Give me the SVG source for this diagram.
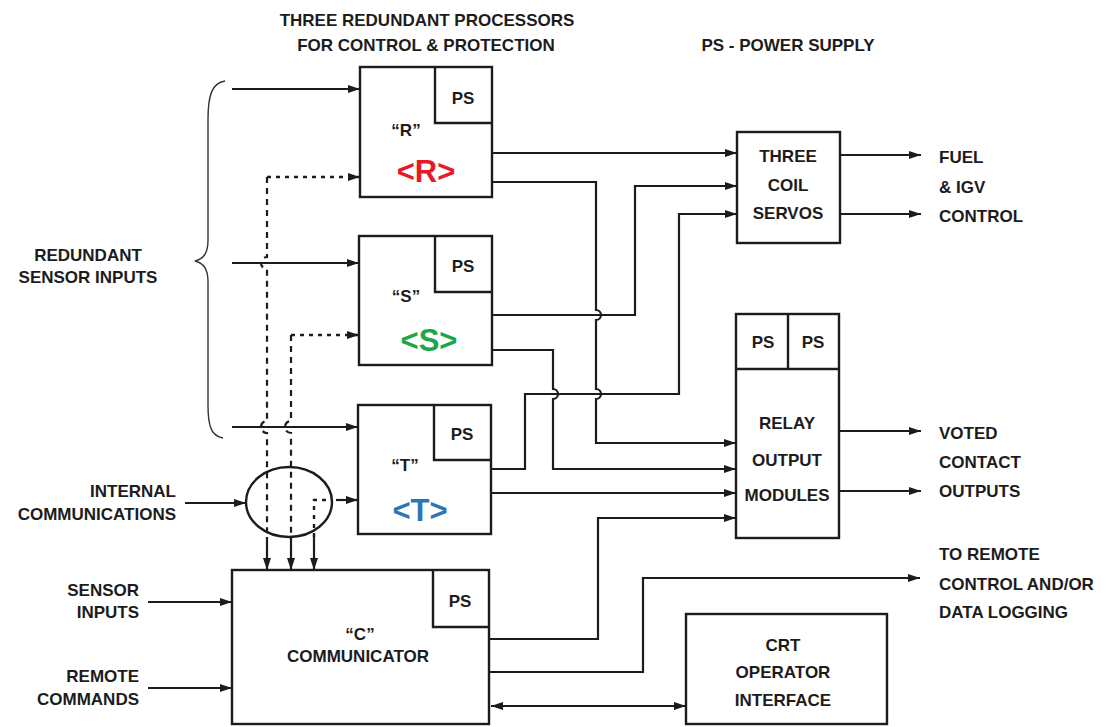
<svg xmlns="http://www.w3.org/2000/svg" width="1113" height="727" viewBox="0 0 1113 727">
<defs>
<style>
.t{font-family:"Liberation Sans",Arial,sans-serif;font-size:17px;font-weight:bold;fill:#1c1c1c}
.m{text-anchor:middle}
.e{text-anchor:end}
.box{fill:none;stroke:#1c1c1c;stroke-width:2.4}
.w{fill:none;stroke:#1c1c1c;stroke-width:2.2}
.a{marker-end:url(#ah)}
.d{fill:none;stroke:#1c1c1c;stroke-width:2.2;stroke-dasharray:6 5}
.dot{fill:none;stroke:#1c1c1c;stroke-width:2.4;stroke-dasharray:4 5}
.big{font-family:"Liberation Sans",Arial,sans-serif;font-size:31px;font-weight:bold;text-anchor:middle}
</style>
<marker id="ah" markerWidth="13" markerHeight="8" refX="12" refY="4" orient="auto" markerUnits="userSpaceOnUse">
<path d="M0,0 L12,4 L0,8 z" fill="#1c1c1c"/>
</marker>
<marker id="ahs" markerWidth="13" markerHeight="8" refX="0" refY="4" orient="auto" markerUnits="userSpaceOnUse">
<path d="M12,0 L0,4 L12,8 z" fill="#1c1c1c"/>
</marker>
</defs>
<rect width="1113" height="727" fill="#ffffff"/>

<g id="labels">
<text class="t m" x="427" y="26">THREE REDUNDANT PROCESSORS</text>
<text class="t m" x="426" y="51">FOR CONTROL &amp; PROTECTION</text>
<text class="t m" x="788" y="51">PS - POWER SUPPLY</text>
<text class="t m" x="88" y="261">REDUNDANT</text>
<text class="t m" x="88" y="283">SENSOR INPUTS</text>
<text class="t e" x="176" y="497">INTERNAL</text>
<text class="t e" x="176" y="520">COMMUNICATIONS</text>
<text class="t e" x="139" y="596">SENSOR</text>
<text class="t e" x="139" y="618">INPUTS</text>
<text class="t e" x="139" y="682">REMOTE</text>
<text class="t e" x="139" y="705">COMMANDS</text>
<text class="t" x="939" y="163">FUEL</text>
<text class="t" x="939" y="193">&amp; IGV</text>
<text class="t" x="939" y="222">CONTROL</text>
<text class="t" x="939" y="439">VOTED</text>
<text class="t" x="939" y="468">CONTACT</text>
<text class="t" x="939" y="497">OUTPUTS</text>
<text class="t" x="939" y="560">TO REMOTE</text>
<text class="t" x="939" y="590">CONTROL AND/OR</text>
<text class="t" x="939" y="618">DATA LOGGING</text>
</g>

<g id="brace">
<path d="M225,81 C212,83 208,95 208,120 L208,240 C208,254 203,259 195,261 C203,263 208,268 208,282 L208,405 C208,428 212,436 223,438" fill="none" stroke="#333" stroke-width="1.4"/>
</g>

<g id="proc-R">
<rect class="box" x="360" y="67" width="132" height="130"/>
<polyline class="box" points="435,67 435,123 492,123"/>
<text class="t m" x="463" y="104">PS</text>
<text class="t m" x="406" y="136">“R”</text>
<text class="big" x="426" y="182" fill="#e8192c">&lt;R&gt;</text>
</g>

<g id="proc-S">
<rect class="box" x="359" y="236" width="133" height="129"/>
<polyline class="box" points="435,236 435,292 492,292"/>
<text class="t m" x="463" y="272">PS</text>
<text class="t m" x="406" y="302">“S”</text>
<text class="big" x="429" y="351" fill="#1aa64a">&lt;S&gt;</text>
</g>

<g id="proc-T">
<rect class="box" x="358" y="405" width="133" height="129"/>
<polyline class="box" points="434,405 434,460 491,460"/>
<text class="t m" x="462" y="440">PS</text>
<text class="t m" x="405" y="471">“T”</text>
<text class="big" x="420" y="521" fill="#2e75b6">&lt;T&gt;</text>
</g>

<g id="servos">
<rect class="box" x="737" y="132" width="103" height="111"/>
<text class="t m" x="788" y="162">THREE</text>
<text class="t m" x="788" y="191">COIL</text>
<text class="t m" x="788" y="219">SERVOS</text>
</g>

<g id="relay">
<rect class="box" x="736" y="314" width="103" height="224"/>
<line class="box" x1="736" y1="369" x2="839" y2="369"/>
<line class="box" x1="788" y1="314" x2="788" y2="369"/>
<text class="t m" x="763" y="348">PS</text>
<text class="t m" x="813" y="348">PS</text>
<text class="t m" x="787" y="429">RELAY</text>
<text class="t m" x="787" y="466">OUTPUT</text>
<text class="t m" x="787" y="501">MODULES</text>
</g>

<g id="communicator">
<rect class="box" x="232" y="570" width="257" height="154"/>
<polyline class="box" points="433,570 433,627 489,627"/>
<text class="t m" x="460" y="607">PS</text>
<text class="t m" x="360" y="640">“C”</text>
<text class="t m" x="358" y="662">COMMUNICATOR</text>
</g>

<g id="crt">
<rect class="box" x="686" y="614" width="201" height="110"/>
<text class="t m" x="783" y="651">CRT</text>
<text class="t m" x="783" y="678">OPERATOR</text>
<text class="t m" x="783" y="706">INTERFACE</text>
</g>

<g id="internal-comms">
<ellipse cx="289" cy="502" rx="43" ry="35" fill="none" stroke="#1c1c1c" stroke-width="2.4"/>
</g>

<g id="connectors">
<!-- redundant sensor inputs -->
<line class="w a" x1="232" y1="89" x2="360" y2="89"/>
<line class="w a" x1="232" y1="263" x2="359" y2="263"/>
<line class="w a" x1="232" y1="427" x2="358" y2="427"/>
<!-- dashed internal links -->
<path class="dot a" d="M267,177 L360,177"/>
<path class="d" d="M267,177 L267,257 A6,6 0 0 0 267,269 L267,421 A6,6 0 0 0 267,433 L267,537"/>
<path class="dot a" d="M291,335 L359,335"/>
<path class="d" d="M291,335 L291,421 A6,6 0 0 0 291,433 L291,537"/>
<path class="dot" d="M314,537 L314,500 L330,500"/>
<line class="w a" x1="336" y1="500" x2="358" y2="500"/>
<line class="w a" x1="267" y1="537" x2="267" y2="570"/>
<line class="w a" x1="291" y1="537" x2="291" y2="570"/>
<line class="w a" x1="314" y1="535" x2="314" y2="570"/>
<line class="w a" x1="185" y1="503" x2="246" y2="503"/>
<line class="w a" x1="148" y1="602" x2="232" y2="602"/>
<line class="w a" x1="148" y1="688" x2="232" y2="688"/>
<!-- R outputs -->
<line class="w a" x1="492" y1="153" x2="737" y2="153"/>
<path class="w a" d="M492,182 L596,182 L596,310 A5,5 0 0 1 596,320 L596,389 A5,5 0 0 1 596,399 L596,443 L736,443"/>
<!-- S outputs -->
<path class="w a" d="M492,315 L635,315 L635,186 L737,186"/>
<path class="w a" d="M492,350 L553,350 L553,389 A5,5 0 0 1 553,399 L553,469 L736,469"/>
<!-- T outputs -->
<path class="w a" d="M491,469 L525,469 L525,394 L679,394 L679,214 L737,214"/>
<line class="w a" x1="491" y1="493" x2="736" y2="493"/>
<!-- C outputs -->
<path class="w a" d="M489,639 L598,639 L598,518 L736,518"/>
<path class="w a" d="M489,672 L643,672 L643,578 L920,578"/>
<line class="w a" x1="491" y1="706" x2="686" y2="706" marker-start="url(#ahs)"/>
<!-- servo outputs -->
<line class="w a" x1="840" y1="155" x2="921" y2="155"/>
<line class="w a" x1="840" y1="214" x2="921" y2="214"/>
<!-- relay outputs -->
<line class="w a" x1="839" y1="431" x2="921" y2="431"/>
<line class="w a" x1="839" y1="491" x2="921" y2="491"/>
</g>
</svg>
